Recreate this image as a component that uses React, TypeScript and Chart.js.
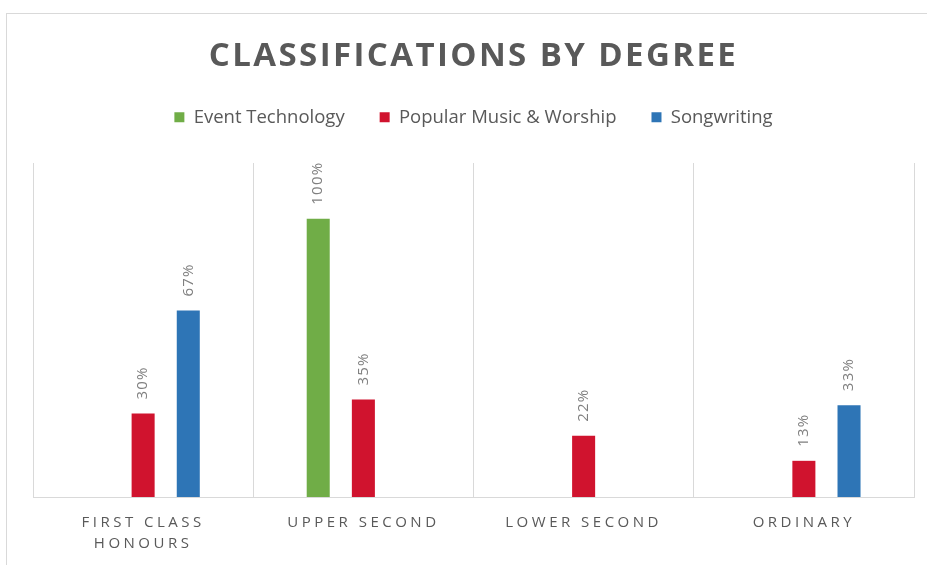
import React, { useEffect, useRef } from "react";
import { Chart, registerables, CategoryScale } from "chart.js";

const categories: (string | string[])[] = [
  ["FIRST CLASS", "HONOURS"],
  "UPPER SECOND",
  "LOWER SECOND",
  "ORDINARY",
];
const eventTechnology: (number | null)[] = [null, 100, null, null];
const popularMusicWorship: (number | null)[] = [30, 35, 22, 13];
const songwriting: (number | null)[] = [67, null, null, 33];
const seriesNames = ["Event Technology", "Popular Music & Worship", "Songwriting"];
const seriesColors = ["#70ad47", "#d0132e", "#2e75b6"];
const titleText = "CLASSIFICATIONS BY DEGREE";

class SpacedCategoryScale extends CategoryScale {
  static id = "spacedCategory";
  static defaults = CategoryScale.defaults;
  drawLabels(chartArea: any) {
    const ctx: any = (this as any).ctx;
    ctx.save();
    ctx.letterSpacing = "3.5px";
    super.drawLabels(chartArea);
    ctx.restore();
  }
}

Chart.register(...registerables, SpacedCategoryScale as any);

const layoutTweaks = {
  id: "layoutTweaks",
  beforeLayout(chart: any) {
    const lg = chart.legend;
    if (lg && !lg.__patched) {
      const orig = lg.fit;
      lg.fit = function () {
        orig.call(this);
        this.height += 26.5;
      };
      lg.__patched = true;
    }
    const tb = chart.titleBlock;
    if (tb && !tb.__patched) {
      const origDraw = tb.draw;
      tb.draw = function () {
        const ctx: any = this.ctx;
        ctx.save();
        ctx.letterSpacing = "2.4px";
        origDraw.call(this);
        ctx.restore();
      };
      tb.__patched = true;
    }
  },
};

const barLabels = {
  id: "barLabels",
  afterDatasetsDraw(chart: any) {
    const ctx: any = chart.ctx;
    chart.data.datasets.forEach((ds: any, di: number) => {
      const meta = chart.getDatasetMeta(di);
      if (meta.hidden) return;
      meta.data.forEach((bar: any, i: number) => {
        const v = ds.data[i];
        if (v === null || v === undefined) return;
        ctx.save();
        ctx.translate(bar.x, bar.y - 14);
        ctx.rotate(-Math.PI / 2);
        ctx.font = "15px 'Open Sans'";
        ctx.letterSpacing = "1.2px";
        ctx.fillStyle = "#808080";
        ctx.textAlign = "left";
        ctx.textBaseline = "middle";
        ctx.fillText(`${v}%`, 0, 0);
        ctx.restore();
      });
    });
  },
};

export default function App() {
  const ref = useRef<HTMLCanvasElement>(null);
  useEffect(() => {
    if (!ref.current) return;
    const data = [eventTechnology, popularMusicWorship, songwriting];
    const chart = new Chart(ref.current, {
      type: "bar",
      data: {
        labels: categories as any,
        datasets: data.map((d, i) => ({
          label: seriesNames[i],
          data: d,
          backgroundColor: seriesColors[i],
          borderWidth: 0,
          categoryPercentage: 0.615,
          barPercentage: 0.51,
        })),
      },
      options: {
        responsive: false,
        animation: false,
        devicePixelRatio: 1,
        layout: { padding: { left: 33, right: 13, top: 0, bottom: -4 } },
        plugins: {
          title: {
            display: true,
            text: titleText,
            color: "#595959",
            font: { family: "'Open Sans'", size: 33, weight: "bold", lineHeight: 1.0 },
            padding: { top: 40, bottom: 0 },
          },
          legend: {
            display: true,
            position: "top",
            labels: {
              color: "#595959",
              font: { family: "'Open Sans'", size: 18.5 },
              boxWidth: 10,
              boxHeight: 10,
              padding: 35,
            },
          },
          tooltip: { enabled: false },
        },
        scales: {
          x: {
            type: "spacedCategory" as any,
            offset: true,
            grid: {
              display: true,
              offset: true,
              color: "#d9d9d9",
              lineWidth: 1,
              drawTicks: false,
            },
            border: { display: true, color: "#d9d9d9", width: 1 },
            ticks: {
              color: "#595959",
              font: { family: "'Open Sans'", size: 15, lineHeight: 1.4 },
              padding: 15,
              autoSkip: false,
              maxRotation: 0,
              minRotation: 0,
            },
          },
          y: {
            display: false,
            min: 0,
            max: 120,
          },
        },
      },
      plugins: [layoutTweaks, barLabels],
    });
    return () => chart.destroy();
  }, []);

  return (
    <div style={{ position: "fixed", left: 0, top: 0, width: 927, height: 565, background: "#fff" }}>
      <div
        style={{
          position: "absolute",
          left: 6,
          top: 13,
          width: 960,
          height: 600,
          border: "1px solid #d9d9d9",
        }}
      />
      <canvas ref={ref} width={927} height={565} style={{ position: "absolute", left: 0, top: 0 }} />
    </div>
  );
}
